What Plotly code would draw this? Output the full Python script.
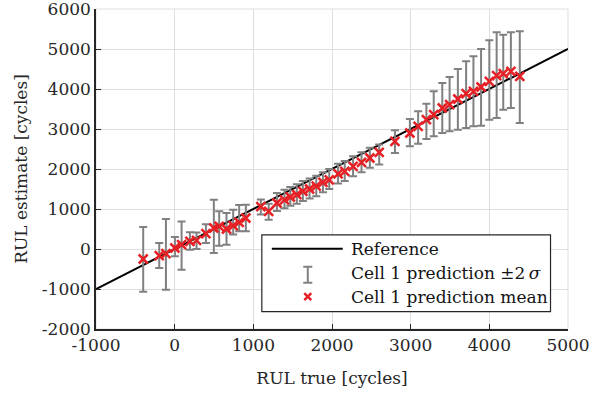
import plotly.graph_objects as go

# Reference line
ref_x = [-1000, 5000]
ref_y = [-1000, 5000]

# Cell 1 predictions: true RUL, predicted mean, upper (+2σ) and lower (-2σ)
rul_true = [-400, -196, -111, 3, 88, 194, 278, 397, 498, 566, 659, 744, 820, 905,
            1095, 1195, 1300, 1396, 1470, 1553, 1630, 1715, 1800, 1885, 1965,
            2077, 2162, 2268, 2375, 2481, 2600, 2800,
            2990, 3095, 3200, 3293, 3402, 3495, 3600, 3705, 3798, 3895, 4000, 4093, 4177, 4274, 4387]
pred_mean = [-250, -168, -117, 25, 108, 190, 217, 383, 525, 567, 500, 583, 667, 775,
             1060, 940, 1150, 1230, 1300, 1360, 1440, 1500, 1570, 1665, 1730,
             1880, 1940, 2065, 2165, 2275, 2415, 2690,
             2900, 3067, 3233, 3358, 3525, 3608, 3750, 3883, 3942, 4050, 4192, 4333, 4383, 4442, 4317]
pred_upper = [550, 150, 750, 300, 690, 420, 410, 620, 1233, 942, 900, 980, 1100, 1108,
              1240, 1130, 1400, 1480, 1550, 1620, 1700, 1760, 1830, 1920, 2000,
              2130, 2200, 2320, 2420, 2530, 2610, 2970,
              3250, 3442, 3633, 3942, 4150, 4300, 4500, 4692, 4817, 5000, 5217, 5417, 5358, 5417, 5442]
pred_lower = [-1068, -475, -1018, -180, -517, -20, 0, 150, -100, 83, 108, 360, 442, 442,
              860, 730, 950, 1020, 1080, 1130, 1200, 1260, 1320, 1420, 1500,
              1640, 1700, 1820, 1920, 2030, 2110, 2400,
              2567, 2633, 2750, 2817, 2900, 2942, 2983, 3025, 3067, 3083, 3233, 3275, 3483, 3525, 3150]

x_ticks = [-1000, 0, 1000, 2000, 3000, 4000, 5000]
y_ticks = [-2000, -1000, 0, 1000, 2000, 3000, 4000, 5000, 6000]

legend_labels = ["Reference", "Cell 1 prediction \u00b12\u2009<i>\u03c3</i>", "Cell 1 prediction mean"]

err_plus = [u - m for u, m in zip(pred_upper, pred_mean)]
err_minus = [m - l for m, l in zip(pred_mean, pred_lower)]

GREY = "rgb(128,128,128)"
RED = "rgb(230,32,36)"
DARK = "rgb(38,38,38)"
FONT = "DejaVu Serif"
FS = 17

fig = go.Figure()

fig.add_trace(go.Scatter(
    x=ref_x, y=ref_y, mode="lines", name=legend_labels[0], showlegend=False,
    line=dict(color="black", width=2),
))

fig.add_trace(go.Scatter(
    x=rul_true, y=pred_mean, mode="markers", name="Cell 1 prediction \u00b12\u03c3", showlegend=False,
    marker=dict(size=1, opacity=0),
    error_y=dict(type="data", symmetric=False, array=err_plus, arrayminus=err_minus,
                 color=GREY, thickness=2, width=4),
    hoverinfo="skip",
))

fig.add_trace(go.Scatter(
    x=rul_true, y=pred_mean, mode="markers", name=legend_labels[2], showlegend=False,
    marker=dict(symbol="x-thin-open", size=9, color=RED, line=dict(color=RED, width=2.5)),
))

# ---- plot geometry (pixels) for the hand-made legend ----
W, H = 590, 395
ML, MR, MT, MB = 96, 21.5, 9, 65.7
PW, PH = W - ML - MR, H - MT - MB


def px(xp):
    return (xp - ML) / PW


def py(yp):
    return (H - MB - yp) / PH


shapes = [
    dict(type="rect", xref="paper", yref="paper", x0=0, x1=1, y0=0, y1=1,
         line=dict(color="rgb(222,222,222)", width=1), layer="below"),
    dict(type="rect", xref="paper", yref="paper", x0=px(262), x1=px(551), y0=py(312), y1=py(235),
         line=dict(color=DARK, width=1.2), fillcolor="white", layer="above"),
    dict(type="line", xref="paper", yref="paper", x0=px(272), x1=px(343), y0=py(249), y1=py(249),
         line=dict(color="black", width=2), layer="above"),
    dict(type="line", xref="paper", yref="paper", x0=px(308), x1=px(308), y0=py(267), y1=py(283),
         line=dict(color=GREY, width=2), layer="above"),
    dict(type="line", xref="paper", yref="paper", x0=px(303.5), x1=px(312.5), y0=py(267), y1=py(267),
         line=dict(color=GREY, width=2), layer="above"),
    dict(type="line", xref="paper", yref="paper", x0=px(303.5), x1=px(312.5), y0=py(283), y1=py(283),
         line=dict(color=GREY, width=2), layer="above"),
    dict(type="path", xref="paper", yref="paper",
         path=f"M {px(304.5)} {py(293.5)} L {px(311.5)} {py(300.5)} M {px(304.5)} {py(300.5)} L {px(311.5)} {py(293.5)}",
         line=dict(color=RED, width=2.5), layer="above"),
]

annotations = []
for lab, yy in zip(legend_labels, [249, 273.5, 297]):
    annotations.append(dict(text=lab, xref="paper", yref="paper", x=px(349), y=py(yy),
                            xanchor="left", yanchor="middle", showarrow=False,
                            font=dict(family=FONT, size=FS, color="rgb(20,20,20)")))

axis_common = dict(
    showgrid=True, gridcolor="rgb(222,222,222)", gridwidth=1,
    zeroline=False, showline=True, linecolor=DARK, linewidth=1.5,
    ticks="inside", ticklen=5, tickcolor=DARK, tickwidth=1,
    tickfont=dict(family=FONT, size=FS, color=DARK),
    ticklabeloverflow="allow",
    automargin=False,
)

fig.update_layout(
    width=W, height=H,
    margin=dict(l=ML, r=MR, t=MT, b=MB, pad=0),
    paper_bgcolor="white", plot_bgcolor="white",
    font=dict(family=FONT, size=FS, color=DARK),
    xaxis=dict(range=[-1000, 5000], tickvals=x_ticks, ticktext=[str(v) for v in x_ticks],
               title=dict(text="RUL true [cycles]", font=dict(family=FONT, size=FS, color=DARK), standoff=18),
               **axis_common),
    yaxis=dict(range=[-2000, 6000], tickvals=y_ticks, ticktext=[str(v) for v in y_ticks],
               title=dict(text="RUL estimate [cycles]", font=dict(family=FONT, size=FS, color=DARK), standoff=10),
               **axis_common),
    shapes=shapes,
    annotations=annotations,
    showlegend=False,
)

fig.write_html("out.html", config={"displayModeBar": False},
               post_script="document.body.style.margin='0px';")
